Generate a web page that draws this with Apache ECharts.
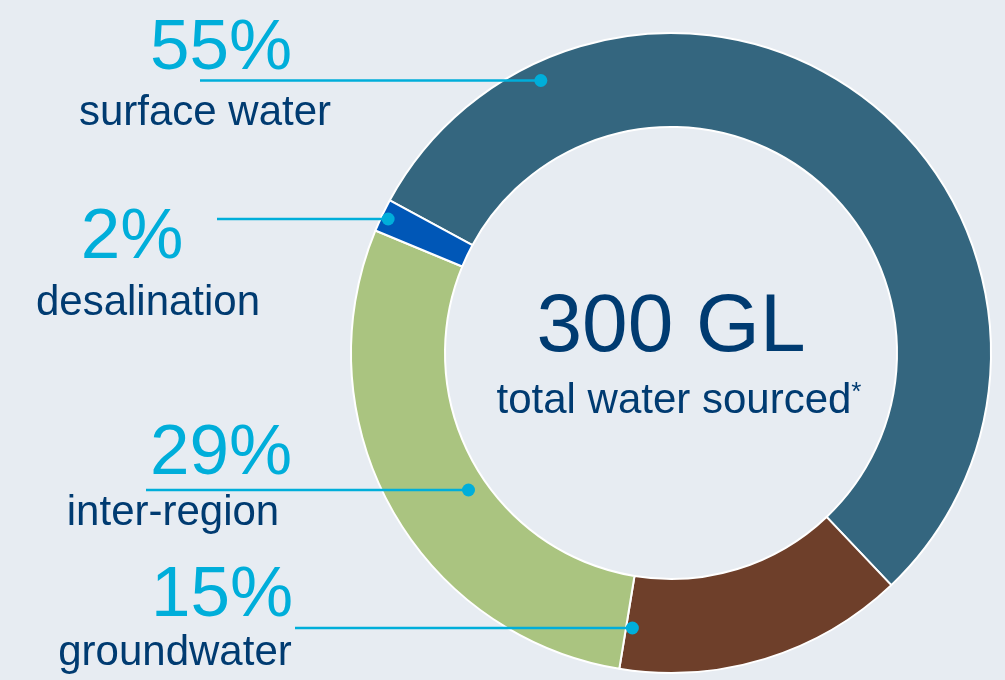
<!DOCTYPE html>
<html>
<head>
<meta charset="utf-8">
<script src="https://cdn.jsdelivr.net/npm/echarts@6/dist/echarts.min.js"></script>
<style>
  html,body{margin:0;padding:0;background:#E7ECF2;}
  #waterPie{width:1005px;height:680px;}
</style>
</head>
<body>
<div id="waterPie"></div>
<script>
// data (GL of water sourced), clockwise from upper left
const categories = ['surface water', 'groundwater', 'inter-region', 'desalination'];
const volumesGL = [165, 44, 86, 5];
const totalLabel = '300 GL';
const totalCaption = 'total water sourced';

// colours + hand placed label layout
const sliceColors = ['#34667F', '#6E3F2A', '#AAC480', '#0057B7'];
const cyan = '#00AEDA';
const navy = '#003B71';
const font = '"Liberation Sans", Arial, sans-serif';

const pieCenter = [671, 353];
const pieRadius = [226, 320];

const labelX = [205, 175, 173, 148];
const labelTop = [13, 560, 418, 202];
const pctShift = [16, 47, 48, -16];
const nameLineH = [56, 42, 46, 58];
const lineY = [80.5, 628, 490, 219];
const lineStartX = [200, 295, 146, 217];
const anchorR = [302, 277.7, 244.5, 313];

const total = volumesGL.reduce((a, b) => a + b, 0);

// point inside the ring where a leader line ends
function anchorPoint(i){
    let dy = lineY[i] - pieCenter[1];
    let dx = Math.sqrt(anchorR[i] * anchorR[i] - dy * dy);
    return [pieCenter[0] - dx, lineY[i]];
}

let rich = {};
categories.forEach((c, i) => {
    let s = pctShift[i];
    rich['p' + i] = {
        fontSize: 71,
        fontFamily: font,
        color: cyan,
        lineHeight: 72,
        padding: s >= 0 ? [0, 0, 0, 2 * s] : [0, -2 * s, 0, 0]
    };
    rich['n' + i] = {
        fontSize: 42,
        fontFamily: font,
        color: navy,
        lineHeight: nameLineH[i]
    };
});

let leaders = [];
categories.forEach((c, i) => {
    let a = anchorPoint(i);
    leaders.push({
        type: 'line',
        z: 100,
        shape: {x1: lineStartX[i], y1: lineY[i], x2: a[0], y2: a[1]},
        style: {stroke: cyan, lineWidth: 2.5}
    });
    leaders.push({
        type: 'circle',
        z: 101,
        shape: {cx: a[0], cy: a[1], r: 6.5},
        style: {fill: cyan}
    });
});

let myChart = echarts.init(document.getElementById('waterPie'));
let option = {
    backgroundColor: '#E7ECF2',
    animation: false,
    title: [
        {
            text: totalLabel,
            left: pieCenter[0],
            top: 287,
            padding: 0,
            textAlign: 'center',
            textStyle: {
                fontSize: 82,
                fontWeight: 'normal',
                fontFamily: font,
                color: navy,
                lineHeight: 82
            }
        },
        {
            text: '{a|' + totalCaption + '}{s|*}',
            left: pieCenter[0] + 8,
            top: 380,
            padding: 0,
            textAlign: 'center',
            textStyle: {
                fontWeight: 'normal',
                rich: {
                    a: {fontSize: 42, fontWeight: 'normal', fontFamily: font, color: navy, lineHeight: 42},
                    s: {fontSize: 26, fontWeight: 'normal', fontFamily: font, color: navy, lineHeight: 30, verticalAlign: 'top'}
                }
            }
        }
    ],
    series: [
        {
            type: 'pie',
            center: pieCenter,
            radius: pieRadius,
            startAngle: 151.5,
            clockwise: true,
            avoidLabelOverlap: false,
            itemStyle: {
                borderColor: '#ffffff',
                borderWidth: 2
            },
            label: {
                show: true,
                position: 'outside',
                formatter: (p) => {
                    let pct = Math.round(p.value / total * 100);
                    return '{p' + p.dataIndex + '|' + pct + '%}\n{n' + p.dataIndex + '|' + p.name + '}';
                },
                rich: rich
            },
            labelLine: {show: false},
            labelLayout: (params) => {
                let i = params.dataIndex;
                return {
                    x: labelX[i],
                    y: labelTop[i],
                    align: 'center',
                    verticalAlign: 'top'
                };
            },
            emphasis: {disabled: true},
            data: categories.map((c, i) => ({
                name: c,
                value: volumesGL[i],
                itemStyle: {color: sliceColors[i]}
            }))
        }
    ],
    graphic: leaders
};
myChart.setOption(option);
</script>
</body>
</html>
